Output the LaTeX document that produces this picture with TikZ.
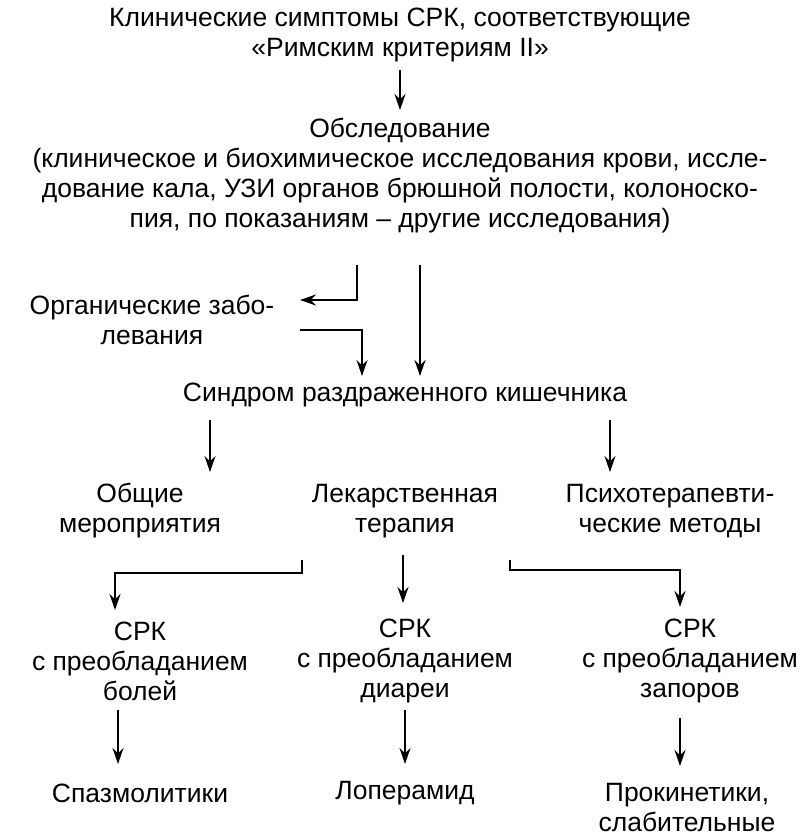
\documentclass[tikz,border=0pt]{standalone}
\usepackage{fontspec}
\setmainfont{Liberation Sans}
\usetikzlibrary{arrows.meta,positioning}
\begin{document}
\begin{tikzpicture}[x=1pt,y=-1pt]
% define box types
\tikzset{txt/.style={align=center, font=\fontsize{26.5}{30}\selectfont, inner sep=0pt},
  a/.style={line width=2.2pt,-{Stealth[length=16pt,width=11pt]}}}
\useasboundingbox (0,0) rectangle (800,838);
% texts
\node[txt] (sympt) at (400,35) {Клинические симптомы СРК, соответствующие\\«Римским критериям II»};
\node[txt] (exam) at (400,176) {Обследование\\(клиническое и биохимическое исследования крови, иссле-\\дование кала, УЗИ органов брюшной полости, колоноско-\\пия, по показаниям -- другие исследования)};
\node[txt] (org) at (152,320) {Органические забо-\\левания};
\node[txt] (irr) at (405,395) {Синдром раздраженного кишечника};
\node[txt] (gen) at (140,511) {Общие\\мероприятия};
\node[txt] (drug) at (405,511) {Лекарственная\\терапия};
\node[txt] (psy) at (670,511) {Психотерапевти-\\ческие методы};
\node[txt] (pain) at (140,661) {СРК\\с преобладанием\\болей};
\node[txt] (diar) at (405,661) {СРК\\с преобладанием\\диареи};
\node[txt] (const) at (690,661) {СРК\\с преобладанием\\запоров};
\node[txt] (spasm) at (140,793) {Спазмолитики};
\node[txt] (lop) at (405,793) {Лоперамид};
\node[txt] (prok) at (687,808) {Прокинетики,\\слабительные};
% connectors
\draw[a] (400,70) -- (400,110);
\draw[a] (357,265) -- (357,300) -- (300,300);
\draw[a] (300,330) -- (362,330) -- (362,376);
\draw[a] (420,265) -- (420,376);
\draw[a] (210,420) -- (210,472);
\draw[a] (610,420) -- (610,472);
\draw[a] (302,560) -- (302,573) -- (115,573) -- (115,610);
\draw[a] (403,555) -- (403,603);
\draw[a] (510,560) -- (510,570) -- (680,570) -- (680,607);
\draw[a] (118,710) -- (118,764);
\draw[a] (405,710) -- (405,764);
\draw[a] (680,718) -- (680,766);
\end{tikzpicture}
\end{document}
